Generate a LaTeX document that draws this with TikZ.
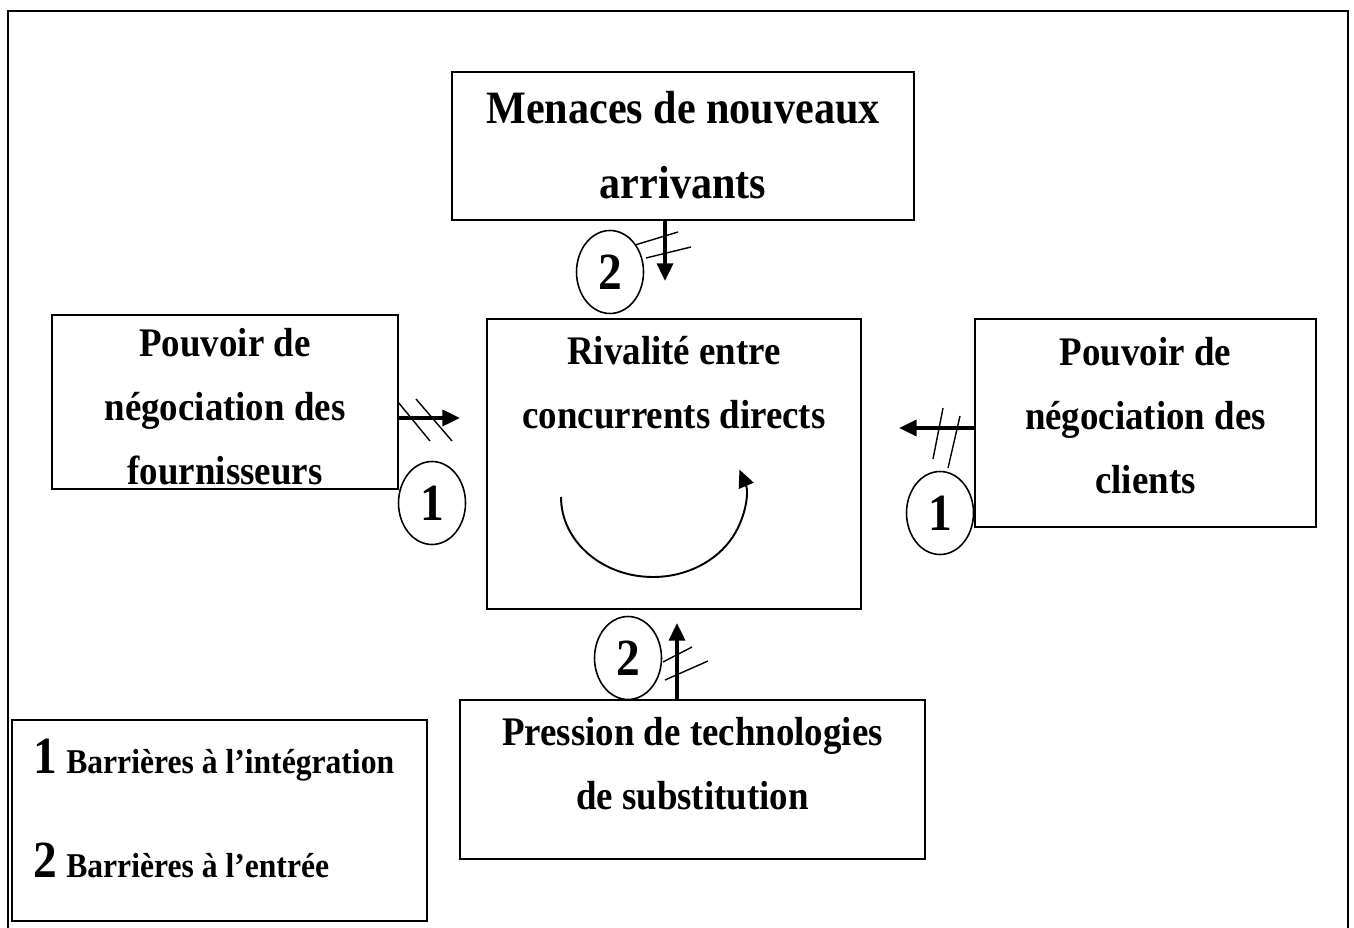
\documentclass[tikz,border=0pt]{standalone}
\usepackage{fontspec}
\setmainfont{Liberation Serif}
\usepackage{graphicx}
\usetikzlibrary{arrows.meta,shapes.geometric}

\newcommand{\etire}[1]{\scalebox{1}[1.1]{#1}}
\newcommand{\lignes}[1]{\etire{\begin{tabular}{@{}c@{}}#1\end{tabular}}}

\tikzset{
  cadre/.style={draw, line width=1.2pt, inner sep=0pt},
  txt/.style={font=\fontsize{21}{33}\selectfont\bfseries, inner sep=0pt},
  barriere/.style={draw, ellipse, line width=0.9pt, inner sep=0pt,
    minimum width=1.34cm, minimum height=1.66cm,
    font=\fontsize{27}{27}\selectfont\bfseries},
  force/.style={line width=2.2pt, -{Triangle[length=10pt,width=9pt]}},
  hachure/.style={line width=0.8pt}
}

\begin{document}
\begin{tikzpicture}[x=0.02cm, y=-0.02cm]
    \useasboundingbox (0,0) rectangle (1354,928);

    % cadre de la page
    \draw[line width=1.3pt] (8,940) -- (8,11) -- (1348,11) -- (1348,940);

    % les cinq forces
    \node[cadre, txt, font=\fontsize{24}{38.5}\selectfont\bfseries,
          minimum width=9.24cm, minimum height=2.86cm] (menaces) at (683,146)
          {\lignes{Menaces de nouveaux\\arrivants}};

    \node[cadre, minimum width=6.92cm, minimum height=3.48cm] (fournisseurs) at (225,402) {};
    \node[txt] at (225,408) {\lignes{Pouvoir de\\négociation des\\fournisseurs}};

    \node[cadre, minimum width=7.48cm, minimum height=5.8cm] (rivalite) at (674,464) {};
    \node[txt] at (674,384) {\lignes{Rivalité entre\\concurrents directs}};

    \node[cadre, minimum width=6.82cm, minimum height=4.16cm] (clients) at (1145.5,423) {};
    \node[txt] at (1145.5,417) {\lignes{Pouvoir de\\négociation des\\clients}};

    \node[cadre, minimum width=9.3cm, minimum height=3.18cm] (pression) at (692.5,779.5) {};
    \node[txt] at (692.5,765) {\lignes{Pression de technologies\\de substitution}};

    % rivalite interne
    \draw[line width=1.1pt, -{Triangle[length=10pt,width=9pt]}]
        (561,497) arc[start angle=180, end angle=-20, x radius=92, y radius=80];

    % barrieres
    \node[barriere] (b2haut) at (610,272) {\etire{2}};
    \node[barriere] (b1gauche) at (432,503) {\etire{1}};
    \node[barriere] (b1droite) at (940,513) {\etire{1}};
    \node[barriere] (b2bas) at (628,658) {\etire{2}};

    % fleches
    \coordinate (t2haut) at (665,281);
    \coordinate (t1gauche) at (460,418);
    \coordinate (t1droite) at (899,428);
    \coordinate (t2bas) at (677,623);

    \draw[force] (menaces.south -| t2haut) -- (t2haut);
    \draw[hachure] (635,245) -- (678,232);
    \draw[hachure] (646,258) -- (691,247);

    \draw[force] (fournisseurs.east |- t1gauche) -- (t1gauche);
    \draw[hachure] (398,402) -- (430,441);
    \draw[hachure] (416,399) -- (452,441);

    \draw[force] (clients.west |- t1droite) -- (t1droite);
    \draw[hachure] (943,408) -- (933,459);
    \draw[hachure] (960,416) -- (948,468);

    \draw[force] (pression.north -| t2bas) -- (t2bas);
    \draw[hachure] (663,662) -- (692,647);
    \draw[hachure] (665,680) -- (708,661);

    % legende
    \node[cadre, minimum width=8.3cm, minimum height=4.02cm] (legende) at (219.5,820.5) {};
    \node[txt, anchor=west] (leg1) at (33,760)
        {\etire{{\fontsize{27}{27}\selectfont 1} \fontsize{18}{18}\selectfont Barrières à l’intégration}};
    \node[txt, anchor=west] (leg2) at (33,860)
        {\etire{{\fontsize{27}{27}\selectfont 2} \fontsize{18}{18}\selectfont Barrières à l’entrée}};

\end{tikzpicture}
\end{document}
